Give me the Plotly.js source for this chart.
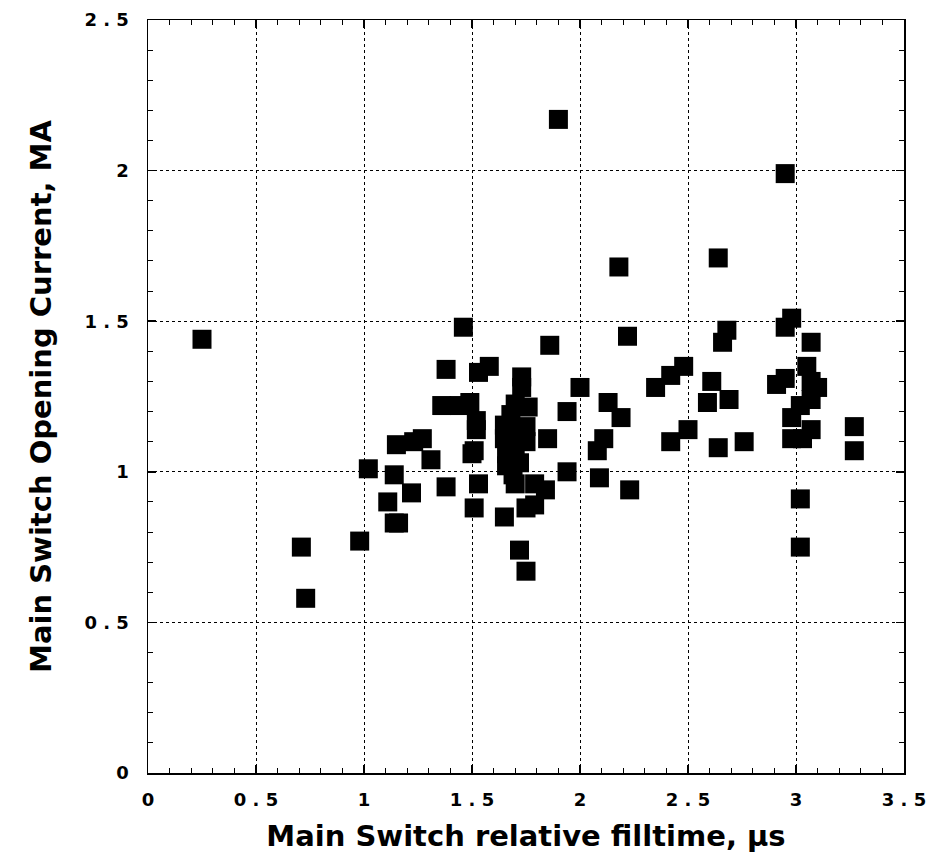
<!DOCTYPE html>
<html>
<head>
<meta charset="utf-8">
<script src="https://cdn.plot.ly/plotly-3.0.1.min.js"></script>
<style>html,body{margin:0;padding:0;background:#fff;}</style>
</head>
<body>
<div id="chart" style="width:934px;height:861px;"></div>
<script>
// Main switch relative filltime (µs)
const filltime = [
  0.25, 0.71, 0.73, 0.98, 1.02, 1.11, 1.14, 1.14, 1.16, 1.15,
  1.23, 1.27, 1.31, 1.22, 1.38, 1.38, 1.36, 1.44, 1.49, 1.46,
  1.52, 1.52, 1.50, 1.51, 1.53, 1.51, 1.53, 1.58, 1.65, 1.72,
  1.75,
  1.73, 1.73, 1.70, 1.76, 1.65, 1.75, 1.65, 1.75, 1.66, 1.72,
  1.66, 1.70, 1.79, 1.84, 1.75, 1.79, 1.70, 1.70, 1.68, 1.69,
  1.85, 1.86, 1.90, 1.94, 1.94, 2.00, 2.08, 2.09, 2.11, 2.13,
  2.19, 2.22, 2.18, 2.23, 2.35, 2.42, 2.48, 2.42, 2.50, 2.59,
  2.61, 2.64, 2.66, 2.68, 2.69, 2.64, 2.76, 2.91, 2.95, 2.95,
  2.98, 2.95, 3.07, 3.05, 3.10, 3.07, 3.02, 3.07, 2.98, 3.07,
  2.98, 3.03, 3.02, 3.02, 3.27, 3.27
];
// Main switch opening current (MA)
const current = [
  1.44, 0.75, 0.58, 0.77, 1.01, 0.90, 0.99, 0.83, 0.83, 1.09,
  1.10, 1.11, 1.04, 0.93, 1.34, 0.95, 1.22, 1.22, 1.23, 1.48,
  1.17, 1.14, 1.06, 1.07, 0.96, 0.88, 1.33, 1.35, 0.85, 0.74,
  0.67,
  1.315, 1.28, 1.225, 1.215, 1.155, 1.15, 1.11, 1.10, 1.06, 1.03,
  1.02, 0.96, 0.96, 0.94, 0.88, 0.89, 1.13, 1.07, 1.19, 0.99,
  1.11, 1.42, 2.17, 1.20, 1.00, 1.28, 1.07, 0.98, 1.11, 1.23,
  1.18, 1.45, 1.68, 0.94, 1.28, 1.32, 1.35, 1.10, 1.14, 1.23,
  1.30, 1.71, 1.43, 1.47, 1.24, 1.08, 1.10, 1.29, 1.31, 1.48,
  1.51, 1.99, 1.43, 1.35, 1.28, 1.30, 1.22, 1.24, 1.18, 1.14,
  1.11, 1.11, 0.91, 0.75, 1.15, 1.07
];
const xTickVals = [0, 0.5, 1, 1.5, 2, 2.5, 3, 3.5];
const xTickText = ["0", "0 . 5", "1", "1 . 5", "2", "2 . 5", "3", "3 . 5"];
const yTickVals = [0, 0.5, 1, 1.5, 2, 2.5];
const yTickText = ["0", "0 . 5", "1", "1 . 5", "2", "2 . 5"];

const tickFont = {family: "DejaVu Sans, Liberation Sans, sans-serif", size: 18, color: "#000", weight: "bold"};
const titleFont = {family: "DejaVu Sans, Liberation Sans, sans-serif", size: 29, color: "#000", weight: "bold"};

function axisBase() {
  return {
    ticks: "inside", ticklen: 8, tickwidth: 1.5, tickcolor: "#000",
    showline: true, linecolor: "#000", linewidth: 1.5, mirror: "ticks",
    showgrid: true, gridcolor: "#000", gridwidth: 1, griddash: "dot",
    zeroline: false,
    minor: {dtick: 0.1, tick0: 0, ticks: "inside", ticklen: 5, tickwidth: 1, tickcolor: "#000", showgrid: false},
    tickfont: tickFont,
    fixedrange: true
  };
}

const xaxis = Object.assign(axisBase(), {
  range: [0, 3.5], tickmode: "array", tickvals: xTickVals, ticktext: xTickText,
  ticklabelstandoff: 10,
  title: {text: "Main Switch relative filltime, \u00b5s", font: titleFont, standoff: 16}
});
const yaxis = Object.assign(axisBase(), {
  range: [0, 2.5], tickmode: "array", tickvals: yTickVals, ticktext: yTickText,
  ticklabelstandoff: 14,
  title: {text: "Main Switch Opening Current, MA", font: titleFont, standoff: 24}
});

const trace = {
  x: filltime, y: current, type: "scatter", mode: "markers",
  marker: {symbol: "square", size: 19, color: "#000", line: {width: 0}},
  hoverinfo: "skip"
};

const layout = {
  width: 934, height: 861,
  margin: {l: 148, r: 30, t: 20, b: 88},
  paper_bgcolor: "#fff", plot_bgcolor: "#fff",
  showlegend: false,
  xaxis: xaxis, yaxis: yaxis
};

Plotly.newPlot("chart", [trace], layout, {staticPlot: true, displayModeBar: false});
</script>
</body>
</html>
